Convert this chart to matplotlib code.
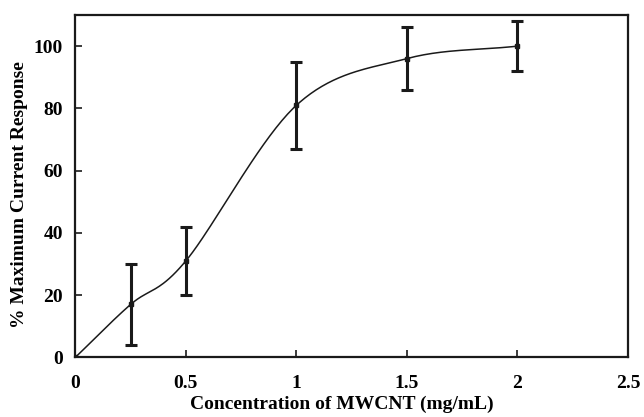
import numpy as np
import matplotlib
matplotlib.use("Agg")
import matplotlib.pyplot as plt

# data
conc = [0, 0.25, 0.5, 1.0, 1.5, 2.0]
resp = [0, 17, 31, 81, 96, 100]
err_lo = [0, 13, 11, 14, 10, 8]
err_hi = [0, 13, 11, 14, 10, 8]

plt.rcParams['font.family'] = ['Liberation Serif', 'DejaVu Serif']
plt.rcParams['font.weight'] = 'bold'


def catmull_rom(x, y, n=40):
    # smooth line through the points (like a spreadsheet "smoothed line")
    x = np.asarray(x, float)
    y = np.asarray(y, float)
    px = np.concatenate([[2 * x[0] - x[1]], x, [2 * x[-1] - x[-2]]])
    py = np.concatenate([[2 * y[0] - y[1]], y, [2 * y[-1] - y[-2]]])
    xs, ys = [], []
    t = np.linspace(0, 1, n)
    h00 = 2 * t**3 - 3 * t**2 + 1
    h10 = t**3 - 2 * t**2 + t
    h01 = -2 * t**3 + 3 * t**2
    h11 = t**3 - t**2
    for i in range(1, len(px) - 2):
        p0, p1, p2, p3 = [np.array([px[j], py[j]]) for j in range(i - 1, i + 3)]
        m1 = (p2 - p0) / 2
        m2 = (p3 - p1) / 2
        pts = (np.outer(h00, p1) + np.outer(h10, m1) +
               np.outer(h01, p2) + np.outer(h11, m2))
        xs.append(pts[:, 0])
        ys.append(pts[:, 1])
    return np.concatenate(xs), np.concatenate(ys)


fig, ax = plt.subplots(figsize=(6.44, 4.17), dpi=100)
fig.subplots_adjust(left=0.117, right=0.975, top=0.964, bottom=0.143)

sx, sy = catmull_rom(conc, resp)
ax.plot(sx, sy, color='#1a1a1a', lw=1.1)
ax.errorbar(conc[1:], resp[1:], yerr=[err_lo[1:], err_hi[1:]], fmt='s',
            color='#1a1a1a', ms=3, elinewidth=2.2, capsize=4, capthick=2.2)
ax.plot([0], [0], 's', color='#1a1a1a', ms=3)

ax.set_xlim(0, 2.5)
ax.set_ylim(0, 110)
ax.set_xticks([0, 0.5, 1, 1.5, 2, 2.5])
ax.set_xticklabels(['0', '0.5', '1', '1.5', '2', '2.5'])
ax.set_yticks([0, 20, 40, 60, 80, 100])
ax.tick_params(direction='in', length=5, width=1.2, labelsize=14, color='#1a1a1a')
ax.tick_params(axis='x', pad=13)
ax.tick_params(axis='y', pad=9)
for s in ax.spines.values():
    s.set_linewidth(1.6)
    s.set_color('#1a1a1a')

ax.set_xlabel('Concentration of MWCNT (mg/mL)', fontsize=14, fontweight='bold')
ax.set_ylabel('% Maximum Current Response', fontsize=14, fontweight='bold')
ax.xaxis.set_label_coords(0.482, -0.113)
ax.yaxis.set_label_coords(-0.085, 0.477)

plt.savefig('out.png', dpi=100)
